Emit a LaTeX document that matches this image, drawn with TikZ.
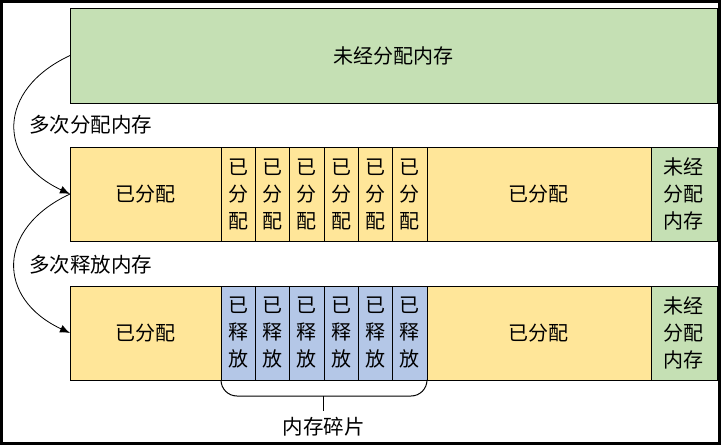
\documentclass[tikz,border=0pt]{standalone}
\usepackage{fontspec}
\newfontfamily\cjk{Noto Sans CJK SC}
\usepackage{xcolor}
\usepackage{tikz}
\usetikzlibrary{arrows.meta,positioning}
\definecolor{poolgreen}{HTML}{C5E0B4}
\definecolor{usedyellow}{HTML}{FFE699}
\definecolor{freedblue}{HTML}{B4C7E7}

\begin{document}
\begin{tikzpicture}[
  x=1pt, y=-1pt,
  node distance=0pt,
  cell/.style={draw, line width=0.9pt, outer sep=0pt, inner sep=0pt, align=center,
               font=\cjk\fontsize{20}{27}\selectfont, minimum height=94pt},
  pool/.style={cell, fill=poolgreen},
  used/.style={cell, fill=usedyellow},
  freed/.style={cell, fill=freedblue},
  slot/.style={minimum width=34.33pt},
  lbl/.style={font=\cjk\fontsize{20.5}{24}\selectfont, inner sep=0pt},
  arr/.style={-{Latex[length=10pt,width=8pt]}, line width=0.8pt, out=205, in=155, looseness=1.5},
  brace/.style={line width=1pt, rounded corners=16pt}
]
\useasboundingbox (0,0) rectangle (723,447);
\draw[line width=2.5pt] (1.5,1.5) rectangle (719.5,443.5);

\node[pool, minimum width=647pt, minimum height=95pt, anchor=north west] (pool) at (70,8) {未经分配内存};

% second row: after many allocations
\node[used, minimum width=151pt, below right=44pt and 0pt of pool.south west] (used1) {已分配};
\node[used, slot, right=of used1] (alloc1) {已\\分\\配};
\node[used, slot, right=of alloc1] (alloc2) {已\\分\\配};
\node[used, slot, right=of alloc2] (alloc3) {已\\分\\配};
\node[used, slot, right=of alloc3] (alloc4) {已\\分\\配};
\node[used, slot, right=of alloc4] (alloc5) {已\\分\\配};
\node[used, slot, right=of alloc5] (alloc6) {已\\分\\配};
\node[used, minimum width=224pt, right=of alloc6] (used2) {已分配};
\node[pool, minimum width=66pt, right=of used2] (rest1) {未经\\分配\\内存};

% third row: after many releases
\node[used, minimum width=151pt, below right=45pt and 0pt of used1.south west] (used3) {已分配};
\node[freed, slot, right=of used3] (freed1) {已\\释\\放};
\node[freed, slot, right=of freed1] (freed2) {已\\释\\放};
\node[freed, slot, right=of freed2] (freed3) {已\\释\\放};
\node[freed, slot, right=of freed3] (freed4) {已\\释\\放};
\node[freed, slot, right=of freed4] (freed5) {已\\释\\放};
\node[freed, slot, right=of freed5] (freed6) {已\\释\\放};
\node[used, minimum width=224pt, right=of freed6] (used4) {已分配};
\node[pool, minimum width=66pt, right=of used4] (rest2) {未经\\分配\\内存};

\draw[arr] (pool.west) to (used1.west);
\draw[arr] (used1.west) to (used3.west);
\node[lbl, anchor=west] (allocate) at (29,125) {多次分配内存};
\node[lbl, anchor=west] (release) at (29,265) {多次释放内存};

\coordinate[below=16pt of freed3.south east] (bracemid);
\draw[brace] (freed1.south west) |- (bracemid) -| (freed6.south east);
\node[lbl, inner ysep=6pt, below=15pt of bracemid] (frag) {内存碎片};
\draw[line width=1pt] (bracemid) -- (frag.north);
\end{tikzpicture}
\end{document}
